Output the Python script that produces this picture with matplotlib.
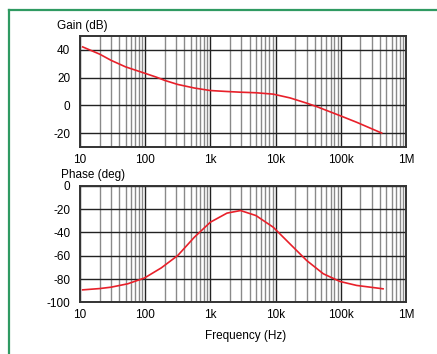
import matplotlib
matplotlib.use("Agg")
import matplotlib.pyplot as plt
from matplotlib.ticker import FixedLocator, LogLocator, NullFormatter
from matplotlib.lines import Line2D

plt.rcParams['font.family'] = ['Liberation Sans', 'DejaVu Sans']
plt.rcParams['axes.unicode_minus'] = False

# values
gain_freq = [11, 20, 30, 50, 97, 150, 200, 316, 570, 1000, 1800, 2900,
             5000, 9200, 16600, 30000, 42700, 97000, 175000, 424000]
gain_db = [42.2, 37.0, 32.5, 27.8, 23.3, 20.3, 18.0, 15.1, 12.5, 10.7, 10.0, 9.5,
           9.1, 8.1, 5.4, 1.6, -0.9, -7.4, -12.2, -20.0]

phase_freq = [11, 20, 30, 54, 97, 177, 316, 570, 1000, 1800, 2900, 5000,
              9200, 16600, 30000, 54000, 97000, 175000, 445000]
phase_deg = [-89.3, -88.2, -87.0, -84.1, -79.2, -70.4, -59.8, -44.0, -31.2, -23.4,
             -21.2, -25.5, -35.5, -49.8, -64.1, -75.5, -82.1, -85.5, -88.4]

x_ticks = [10, 100, 1000, 10000, 100000, 1000000]
x_labels = ['10', '100', '1k', '10k', '100k', '1M']
gain_ticks = [-20, 0, 20, 40]
phase_ticks = [-100, -80, -60, -40, -20, 0]

fig = plt.figure(figsize=(4.37, 3.54), dpi=100)

# green frame at top and left
fig.add_artist(Line2D([9 / 437, 1.0], [1 - 10 / 354, 1 - 10 / 354],
                      color='#2f9a62', lw=1.6, transform=fig.transFigure))
fig.add_artist(Line2D([9 / 437, 9 / 437], [0.0, 1 - 10 / 354],
                      color='#2f9a62', lw=1.6, transform=fig.transFigure))

ax1 = fig.add_axes([0.183, 0.585, 0.746, 0.313])
ax2 = fig.add_axes([0.183, 0.146, 0.746, 0.329])


def style(ax):
    ax.set_xscale('log')
    ax.set_xlim(10, 1e6)
    ax.xaxis.set_major_locator(FixedLocator(x_ticks))
    ax.set_xticklabels(x_labels)
    ax.xaxis.set_minor_locator(LogLocator(base=10, subs=range(2, 10), numticks=20))
    ax.xaxis.set_minor_formatter(NullFormatter())
    ax.grid(True, which='major', color='#222222', lw=1.0)
    ax.grid(True, which='minor', axis='x', color='#8a8a8a', lw=1.0)
    ax.tick_params(which='both', length=0, labelsize=8.5, colors='black')
    ax.tick_params(axis='y', pad=7)
    ax.tick_params(axis='x', pad=5)
    for s in ax.spines.values():
        s.set_color('#333333')
        s.set_linewidth(1.4)
    ax.set_axisbelow(True)


style(ax1)
ax1.set_ylim(-30, 50)
ax1.set_yticks(gain_ticks)
ax1.plot(gain_freq, gain_db, color='#e8202a', lw=1.2)

style(ax2)
ax2.set_ylim(-100, 0)
ax2.set_yticks(phase_ticks)
ax2.plot(phase_freq, phase_deg, color='#e8202a', lw=1.2)

fig.text(57 / 437, 1 - 26 / 354, 'Gain (dB)', fontsize=8.5, va='center', ha='left')
fig.text(61 / 437, 1 - 175 / 354, 'Phase (deg)', fontsize=8.5, va='center', ha='left')
fig.text(246 / 437, 1 - 336 / 354, 'Frequency (Hz)', fontsize=8.5, va='center', ha='center')

fig.savefig('out.png', dpi=100, facecolor='white')
